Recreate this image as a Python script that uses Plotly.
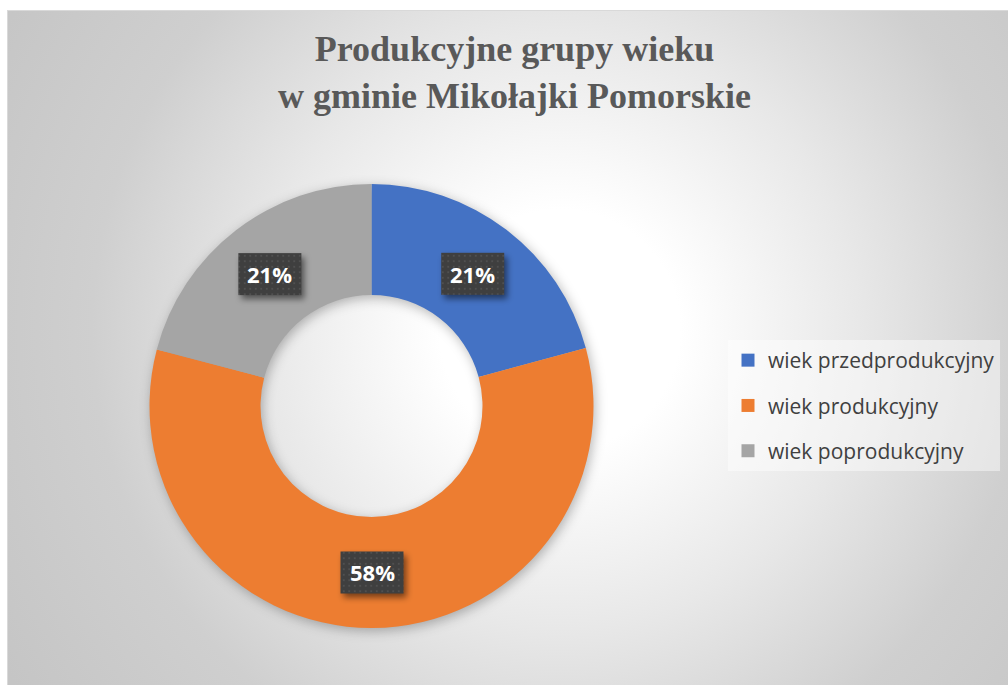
import base64
import math
import plotly.graph_objects as go

# ---- data ----
categories = ["wiek przedprodukcyjny", "wiek produkcyjny", "wiek poprodukcyjny"]
values = [20.8, 58.3, 20.9]
colors = ["#4472C4", "#ED7D31", "#A5A5A5"]
title_lines = ["Produkcyjne grupy wieku", "w gminie Mikołajki Pomorskie"]

# ---- layout geometry (pixels) ----
W, H = 1008, 685
CX, CY, R = 371.5, 406.0, 222.0
HOLE = 0.5
BOX_W, BOX_H = 63, 42

dom_x = [(CX - R) / W, (CX + R) / W]
dom_y = [1 - (CY + R) / H, 1 - (CY - R) / H]

# label positions from data (mid-angle of each slice, middle of ring)
total = sum(values)
r_mid = R * (1 + HOLE) / 2
label_pos = []
cum = 0.0
for v in values:
    mid = (cum + v / 2) / total * 2 * math.pi
    cum += v
    px = CX + r_mid * math.sin(mid)
    py = CY - r_mid * math.cos(mid)
    label_pos.append((px, py))
label_txt = [f"{round(v / total * 100)}%" for v in values]

# ---- background svg (radial gradient + donut shadow) ----
bg_svg = f'''<svg xmlns="http://www.w3.org/2000/svg" width="{W}" height="{H}" viewBox="0 0 {W} {H}">
<defs>
<radialGradient id="g" gradientUnits="userSpaceOnUse" cx="560" cy="330" r="650">
<stop offset="0" stop-color="#ffffff"/>
<stop offset="0.185" stop-color="#ffffff"/>
<stop offset="0.46" stop-color="#e8e8e8"/>
<stop offset="0.72" stop-color="#cfcfcf"/>
<stop offset="1" stop-color="#c5c5c5"/>
</radialGradient>
<filter id="b" x="-30%" y="-30%" width="160%" height="160%"><feGaussianBlur stdDeviation="6"/></filter>
</defs>
<rect width="{W}" height="{H}" fill="#ffffff"/>
<rect x="7.5" y="10.5" width="1100" height="700" fill="url(#g)" stroke="#d9d9d9" stroke-width="1"/>
<circle cx="{CX + 2}" cy="{CY + 3}" r="{r_mid}" fill="none" stroke="#000000" stroke-opacity="0.28" stroke-width="{R * (1 - HOLE)}" filter="url(#b)"/>
</svg>'''

boxes = ""
for (px, py) in label_pos:
    x0, y0 = px - BOX_W / 2, py - BOX_H / 2
    boxes += (f'<rect x="{x0 + 3}" y="{y0 + 4}" width="{BOX_W}" height="{BOX_H}" fill="#000000" '
              f'fill-opacity="0.5" filter="url(#s)"/>'
              f'<rect x="{x0}" y="{y0}" width="{BOX_W}" height="{BOX_H}" fill="url(#p)"/>')
fg_svg = f'''<svg xmlns="http://www.w3.org/2000/svg" width="{W}" height="{H}" viewBox="0 0 {W} {H}">
<defs>
<filter id="s" x="-30%" y="-30%" width="160%" height="160%"><feGaussianBlur stdDeviation="3"/></filter>
<pattern id="p" width="5.5" height="5.5" patternUnits="userSpaceOnUse">
<rect width="5.5" height="5.5" fill="#3f3f3f"/><circle cx="2.75" cy="2.75" r="0.9" fill="#555555"/></pattern>
</defs>
{boxes}
</svg>'''


def uri(s):
    return "data:image/svg+xml;base64," + base64.b64encode(s.encode("utf-8")).decode("ascii")


fig = go.Figure()
fig.add_trace(go.Pie(
    labels=categories, values=values, hole=HOLE, sort=False, direction="clockwise",
    rotation=0, marker=dict(colors=colors, line=dict(width=0)), textinfo="none",
    hoverinfo="label+percent", showlegend=False,
    domain=dict(x=dom_x, y=dom_y),
))

# legend entries
for name, c in zip(categories, colors):
    fig.add_trace(go.Scatter(
        x=[None], y=[None], mode="markers", name=name, legendgroup=name,
        marker=dict(symbol="square", size=13, color=c), hoverinfo="skip",
    ))

annotations = []
for (px, py), t in zip(label_pos, label_txt):
    annotations.append(dict(
        x=px / W, y=1 - py / H, xref="paper", yref="paper", text=f"<b>{t}</b>",
        showarrow=False, xanchor="center", yanchor="middle",
        font=dict(family="Open Sans", size=22, color="#ffffff"),
    ))

# title as annotation
annotations.append(dict(
    x=514 / W, y=1 - 27 / H, xref="paper", yref="paper", xanchor="center", yanchor="top",
    text="<b>" + "<br>".join(title_lines) + "</b>", showarrow=False,
    font=dict(family="Liberation Serif", size=36, color="#595959"),
))

fig.update_layout(
    width=W, height=H, margin=dict(l=0, r=0, t=0, b=0),
    paper_bgcolor="#ffffff", plot_bgcolor="rgba(0,0,0,0)",
    xaxis=dict(visible=False), yaxis=dict(visible=False),
    legend=dict(
        x=728 / W, xanchor="left", y=1 - 340 / H, yanchor="top",
        bgcolor="rgba(255,255,255,0.45)", font=dict(family="Open Sans", size=21, color="#404040"),
        traceorder="grouped", tracegroupgap=15,
    ),
    images=[
        dict(source=uri(bg_svg), xref="paper", yref="paper", x=0, y=1, sizex=1, sizey=1,
             xanchor="left", yanchor="top", sizing="stretch", layer="below"),
        dict(source=uri(fg_svg), xref="paper", yref="paper", x=0, y=1, sizex=1, sizey=1,
             xanchor="left", yanchor="top", sizing="stretch", layer="above"),
    ],
    annotations=annotations,
)

fig.write_html("out.html", config={"displayModeBar": False},
               post_script="document.body.style.margin='0';document.body.style.overflow='hidden';")
